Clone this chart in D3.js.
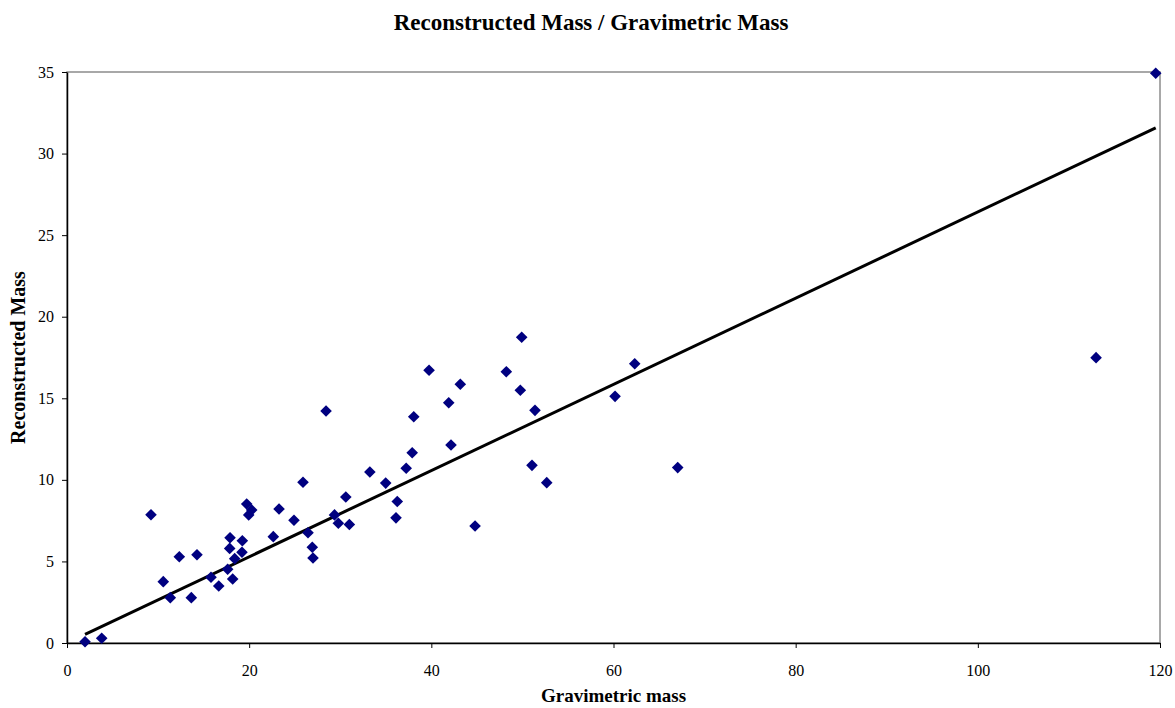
<!DOCTYPE html>
<html>
<head>
<meta charset="utf-8">
<script src="https://cdn.jsdelivr.net/npm/d3@7"></script>
<style>
  html, body { margin: 0; padding: 0; background: #fff; }
  svg { display: block; }
  text { font-family: "Liberation Serif", "Times New Roman", serif; fill: #000; }
</style>
</head>
<body>
<svg id="chart" width="1175" height="708"></svg>
<script>
// Gravimetric mass (x) and reconstructed mass (y) for each sample
const gravimetric = [
  1.98, 3.81, 9.22, 10.57, 11.34, 12.33, 13.65, 14.27, 15.81, 16.66,
  17.64, 17.90, 17.86, 18.19, 18.41, 19.21, 19.25, 19.73, 20.28, 19.95,
  22.65, 23.28, 24.92, 25.91, 26.46, 26.93, 27.01, 28.44, 29.37, 29.79,
  30.61, 31.00, 33.25, 34.99, 36.12, 36.26, 37.24, 37.90, 38.07, 39.75,
  41.91, 42.16, 43.18, 44.80, 48.23, 49.77, 49.92, 51.05, 51.38, 52.67,
  60.17, 62.33, 67.05, 112.98, 119.53
];
const reconstructed = [
  0.08, 0.29, 7.86, 3.76, 2.78, 5.29, 2.78, 5.41, 4.03, 3.49,
  4.52, 6.45, 5.80, 3.92, 5.17, 5.56, 6.27, 8.52, 8.15, 7.85,
  6.52, 8.21, 7.52, 9.85, 6.76, 5.87, 5.21, 14.22, 7.85, 7.34,
  8.95, 7.26, 10.48, 9.80, 7.67, 8.67, 10.71, 11.66, 13.87, 16.72,
  14.73, 12.14, 15.86, 7.17, 16.63, 15.49, 18.74, 10.89, 14.26, 9.83,
  15.12, 17.12, 10.75, 17.49, 34.92
];
const xTicks = [0, 20, 40, 60, 80, 100, 120];
const yTicks = [0, 5, 10, 15, 20, 25, 30, 35];

const chartTitle = "Reconstructed Mass / Gravimetric Mass";
const xTitle = "Gravimetric mass";
const yTitle = "Reconstructed Mass";

const svg = d3.select("#chart");
const plot = { left: 67, right: 1160, top: 72, bottom: 643 };

const x = d3.scaleLinear().domain([0, 120]).range([plot.left, plot.right]);
const y = d3.scaleLinear().domain([0, 35]).range([plot.bottom, plot.top]);

// plot-area frame (grey)
svg.append("rect")
  .attr("x", plot.left).attr("y", plot.top)
  .attr("width", plot.right - plot.left).attr("height", plot.bottom - plot.top)
  .attr("fill", "none").attr("stroke", "#8c8c8c").attr("stroke-width", 1.5);

// axes
const xAxis = svg.append("g")
  .attr("transform", `translate(0,${plot.bottom})`)
  .call(d3.axisBottom(x).tickValues(xTicks).tickSize(5).tickPadding(17).tickSizeOuter(0));
const yAxis = svg.append("g")
  .attr("transform", `translate(${plot.left},0)`)
  .call(d3.axisLeft(y).tickValues(yTicks).tickSize(5).tickPadding(8).tickSizeOuter(0));

[xAxis, yAxis].forEach(g => {
  g.select(".domain").attr("stroke", "#000").attr("stroke-width", 1.5);
  g.selectAll(".tick line").attr("stroke", "#000").attr("stroke-width", 1);
  g.selectAll(".tick text")
    .attr("font-family", "Liberation Serif, Times New Roman, serif")
    .attr("font-size", 16).attr("fill", "#000");
});

// linear trend line with the intercept fixed at zero, over the data range
const slope = d3.sum(gravimetric, (g, i) => g * reconstructed[i]) / d3.sum(gravimetric, g => g * g);
const [x0, x1] = d3.extent(gravimetric);

svg.append("line")
  .attr("x1", x(x0)).attr("y1", y(slope * x0))
  .attr("x2", x(x1)).attr("y2", y(slope * x1))
  .attr("stroke", "#000").attr("stroke-width", 3);

// sample markers
const points = gravimetric.map((g, i) => ({ g, r: reconstructed[i] }));
svg.append("g").selectAll("path")
  .data(points)
  .join("path")
  .attr("d", d3.symbol(d3.symbolDiamond2, 86)())
  .attr("transform", d => `translate(${x(d.g)},${y(d.r)})`)
  .attr("fill", "#000080");

// titles
svg.append("text")
  .attr("x", 591).attr("y", 30)
  .attr("text-anchor", "middle")
  .attr("font-size", 23).attr("font-weight", "bold")
  .text(chartTitle);

svg.append("text")
  .attr("x", (plot.left + plot.right) / 2).attr("y", 702)
  .attr("text-anchor", "middle")
  .attr("font-size", 19).attr("font-weight", "bold")
  .text(xTitle);

svg.append("text")
  .attr("transform", `translate(25,${(plot.top + plot.bottom) / 2}) rotate(-90)`)
  .attr("text-anchor", "middle")
  .attr("font-size", 20).attr("font-weight", "bold")
  .text(yTitle);
</script>
</body>
</html>
